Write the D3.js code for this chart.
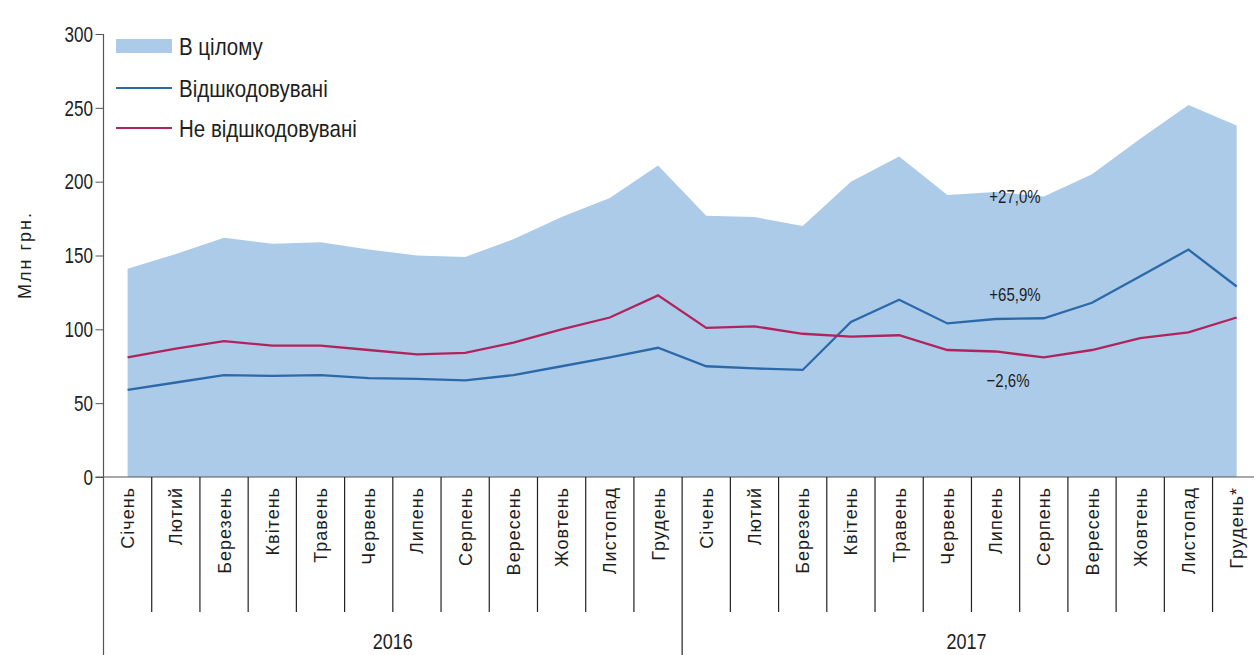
<!DOCTYPE html>
<html><head><meta charset="utf-8">
<script src="https://cdn.jsdelivr.net/npm/d3@7/dist/d3.min.js"></script>
<style>
body{margin:0;background:#fff;}
svg{display:block;}
text{font-family:'Liberation Sans',Arial,sans-serif;fill:#1e1e1e;}
</style></head>
<body><svg id="c" width="1254" height="655"></svg>
<script>
const months = ["Січень","Лютий","Березень","Квітень","Травень","Червень","Липень","Серпень","Вересень","Жовтень","Листопад","Грудень",
  "Січень","Лютий","Березень","Квітень","Травень","Червень","Липень","Серпень","Вересень","Жовтень","Листопад","Грудень*"];
const years = ["2016","2017"];
const total = [141,151,162,158,159,154,150,149,161,176,189,211,177,176,170,200,217,191,193,190,205,229,252,238];
const reimbursed = [59,64,69,68.5,69,67,66.5,65.5,69,75,81,87.5,75,73.5,72.5,105,120,104,107,107.5,118,136,154,129];
const nonReimbursed = [81,87,92,89,89,86,83,84,91,100,108,123,101,102,97,95,96,86,85,81,86,94,98,108];
const yTicks = [0,50,100,150,200,250,300];
const legendLabels = ["В цілому","Відшкодовувані","Не відшкодовувані"];
const noteLabels = ["+27,0%","+65,9%","−2,6%"];
const noteValues = [190,124,65.5];

const svg = d3.select("#c");
const x0 = 103.5, step = 48.22;
const keys = months.map((m,i)=>i);
const x = d3.scaleBand().domain(keys).range([x0, x0 + step*24]).padding(0);
const cx = i => x(i) + x.bandwidth()/2;
const y = d3.scaleLinear().domain([0,300]).range([477,34]);

const colArea = "#abcbe8", colBlue = "#2d69a9", colRed = "#b0245d";
const SY = 1.25; // vertical stretch of horizontal text

// helper: stretched horizontal text
function stext(parent, tx, ty, str, size, anchor, sy){
  return parent.append("text")
    .attr("transform",`translate(${tx},${ty}) scale(1,${sy||SY})`)
    .attr("text-anchor",anchor||"start").attr("font-size",size).text(str);
}

svg.append("path").datum(total)
  .attr("fill", colArea)
  .attr("d", d3.area().x((d,i)=>cx(i)).y0(y(0)).y1(d=>y(d)));

const line = d3.line().x((d,i)=>cx(i)).y(d=>y(d));
svg.append("path").datum(reimbursed).attr("fill","none").attr("stroke",colBlue).attr("stroke-width",2.3).attr("d",line);
svg.append("path").datum(nonReimbursed).attr("fill","none").attr("stroke",colRed).attr("stroke-width",2.3).attr("d",line);

// y axis
const ya = svg.append("g").attr("transform",`translate(${x0},0)`)
  .call(d3.axisLeft(y).tickValues(yTicks).tickSize(8).tickPadding(3));
ya.select(".domain").remove();
ya.selectAll("line").attr("stroke","#555");
ya.selectAll("text").attr("font-size",18).attr("font-family","'Liberation Sans',Arial,sans-serif").attr("fill","#1e1e1e")
  .attr("transform",`scale(0.95,${SY})`);
svg.append("line").attr("x1",x0).attr("x2",x0).attr("y1",y(300)).attr("y2",655).attr("stroke","#555").attr("stroke-width",1.2);

// x axis
svg.append("line").attr("x1",x0-8).attr("x2",1254).attr("y1",y(0)).attr("y2",y(0)).attr("stroke","#555").attr("stroke-width",1.2);
const gx = svg.append("g");
keys.slice(1).forEach(i=>{
  gx.append("line").attr("x1",x(i)).attr("x2",x(i)).attr("y1",y(0)).attr("y2", i===12?655:612)
    .attr("stroke","#222").attr("stroke-width",1.2);
});
gx.selectAll("text.m").data(months).enter().append("text")
  .attr("transform",(d,i)=>`translate(${cx(i)+6.5},487) rotate(-90)`)
  .attr("text-anchor","end").attr("font-size",18).attr("letter-spacing",1)
  .text(d=>d);
years.forEach((yr,k)=>{
  const a = k===0 ? x0 : x(12), b = k===0 ? x(12) : x0+step*24;
  stext(svg, (a+b)/2 - (k===1?5:0), 649, yr, 18, "middle");
});

// y label
svg.append("text").attr("transform","translate(31,255) rotate(-90)").attr("text-anchor","middle")
  .attr("font-size",18).attr("letter-spacing",2).text("Млн грн.");

// legend
const lg = svg.append("g");
lg.append("rect").attr("x",116).attr("y",39).attr("width",56).attr("height",14).attr("fill",colArea);
lg.append("line").attr("x1",116).attr("x2",172).attr("y1",88).attr("y2",88).attr("stroke",colBlue).attr("stroke-width",2);
lg.append("line").attr("x1",116).attr("x2",172).attr("y1",128).attr("y2",128).attr("stroke",colRed).attr("stroke-width",2);
legendLabels.forEach((t,i)=>{
  stext(lg, 179, [46,88,128][i] + 9, t, 20.5, "start", 1.15);
});

// notes
noteLabels.forEach((t,i)=>{
  stext(svg, [1015,1015,1008][i], y(noteValues[i]) + 7, t, 15, "middle");
});
</script></body></html>
